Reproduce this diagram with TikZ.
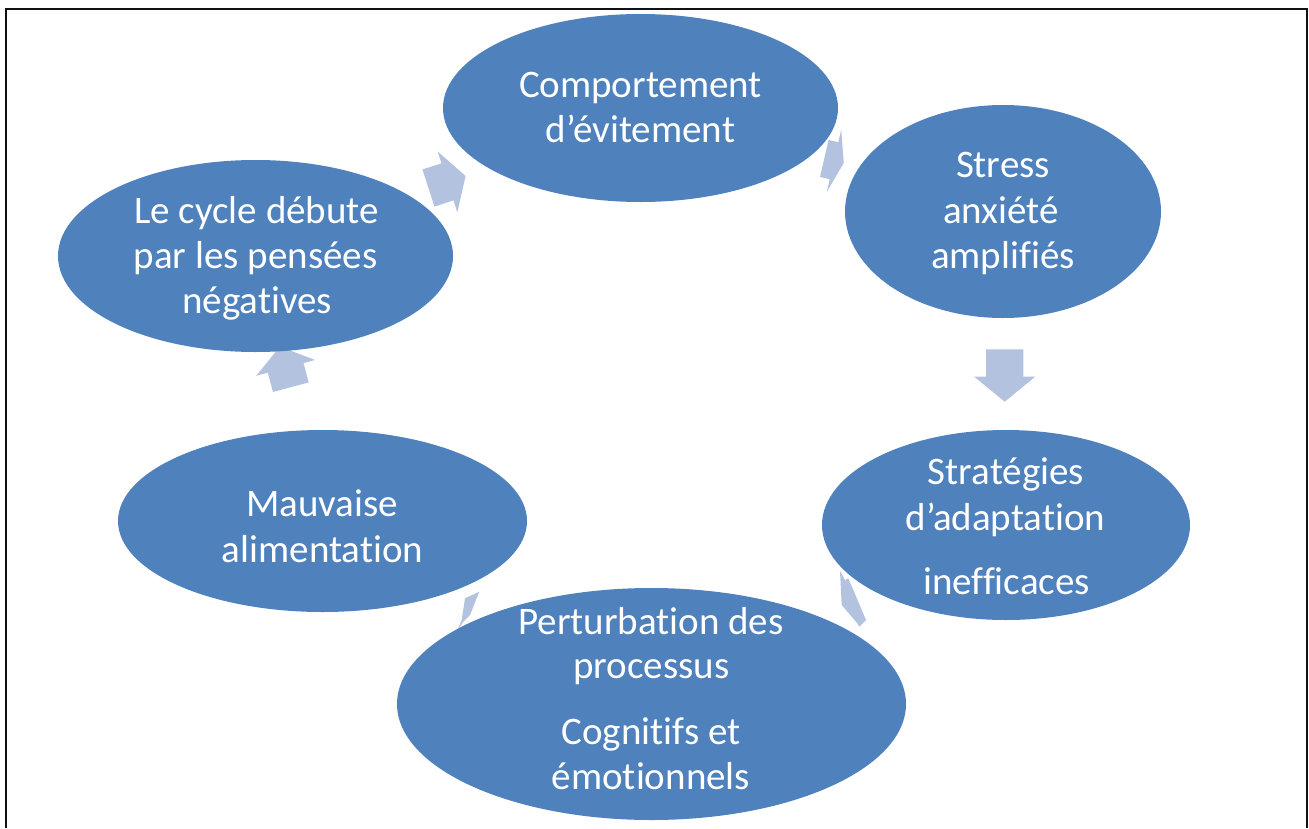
\documentclass[tikz,border=0pt]{standalone}
\usepackage{fontspec}
\setmainfont{Carlito}[Ligatures=NoCommon]
\usetikzlibrary{shapes.geometric}
\definecolor{ellblue}{HTML}{4F81BD}
\definecolor{arrblue}{HTML}{B3C3DF}
\definecolor{framegray}{HTML}{111111}
% #1 cx, #2 cy, #3 angle, #4 length, #5 head length, #6 shaft width, #7 head width
\newcommand\blockarrow[7]{%
  \fill[arrowfill, shift={(#1,#2)}, rotate=#3]
    ({-#4/2},{-#6/2}) -- ({#4/2-#5},{-#6/2}) -- ({#4/2-#5},{-#7/2}) --
    ({#4/2},0) -- ({#4/2-#5},{#7/2}) -- ({#4/2-#5},{#6/2}) --
    ({-#4/2},{#6/2}) -- cycle;}
\begin{document}
\begin{tikzpicture}[x=1pt,y=-1pt,
  bubble/.style={ellipse, fill=ellblue, draw=none, inner sep=0pt},
  lbl/.style={text=white, anchor=base, inner sep=0pt, font=\fontsize{39}{46}\selectfont},
  arrowfill/.style={fill=arrblue, draw=none}]
\useasboundingbox (0,0) rectangle (1309,828);
% frame
\draw[framegray, line width=2.6pt] (6,828) -- (6,9) -- (1307,9) -- (1307,828);
% block arrows (under the ellipses)
\blockarrow{447}{182}{18}{39}{19}{39}{64}
\blockarrow{834}{160.7}{-13}{20}{10}{38}{64}
\blockarrow{1004.7}{375.5}{-90}{52.4}{25}{37.3}{61}
\blockarrow{285.4}{366.9}{105}{42}{22}{37}{61}
\fill[arrowfill] (840,571) -- (845,580) -- (848.3,578.3) -- (866,620) -- (859.3,626.7) -- (857.3,623.3) -- (841.7,605) -- cycle;
\fill[arrowfill] (465,598.3) -- (479.3,591.7) -- (470,615) -- (463.3,621.7) -- (456.7,631.7) -- (461.7,620) -- cycle;
% ellipses
\node[bubble, minimum width=395pt, minimum height=188pt] (comp) at (640.5,108) {};
\node[bubble, minimum width=316pt, minimum height=213pt] (stress) at (1003,211.5) {};
\node[bubble, minimum width=368pt, minimum height=190pt] (strat) at (1006,525) {};
\node[bubble, minimum width=509pt, minimum height=232pt] (pert) at (651.5,704) {};
\node[bubble, minimum width=409pt, minimum height=182pt] (mauv) at (322.5,521) {};
\node[bubble, minimum width=395pt, minimum height=192pt] (cycle) at (255.5,256) {};
% texts
\node[lbl] (comp1) at (640.5,97) {Comportement};
\node[lbl] (comp2) at (640.5,142) {d’évitement};
\node[lbl] (stress1) at (1003,177) {Stress};
\node[lbl] (stress2) at (1001,223) {anxiété};
\node[lbl] (stress3) at (1003,268) {amplifiés};
\node[lbl] (cycle1) at (256.5,223) {Le cycle débute};
\node[lbl] (cycle2) at (255.5,268) {par les pensées};
\node[lbl] (cycle3) at (257,313) {négatives};
\node[lbl] (strat1) at (1006,484) {Stratégies};
\node[lbl] (strat2) at (1005.5,530) {d’adaptation};
\node[lbl] (strat3) at (1006.5,594) {inefficaces};
\node[lbl] (mauv1) at (322,516) {Mauvaise};
\node[lbl] (mauv2) at (322.5,562) {alimentation};
\node[lbl] (pert1) at (651,634) {Perturbation des};
\node[lbl] (pert2) at (651.5,678) {processus};
\node[lbl] (pert3) at (651,744) {Cognitifs et};
\node[lbl] (pert4) at (651,789) {émotionnels};
\end{tikzpicture}
\end{document}
